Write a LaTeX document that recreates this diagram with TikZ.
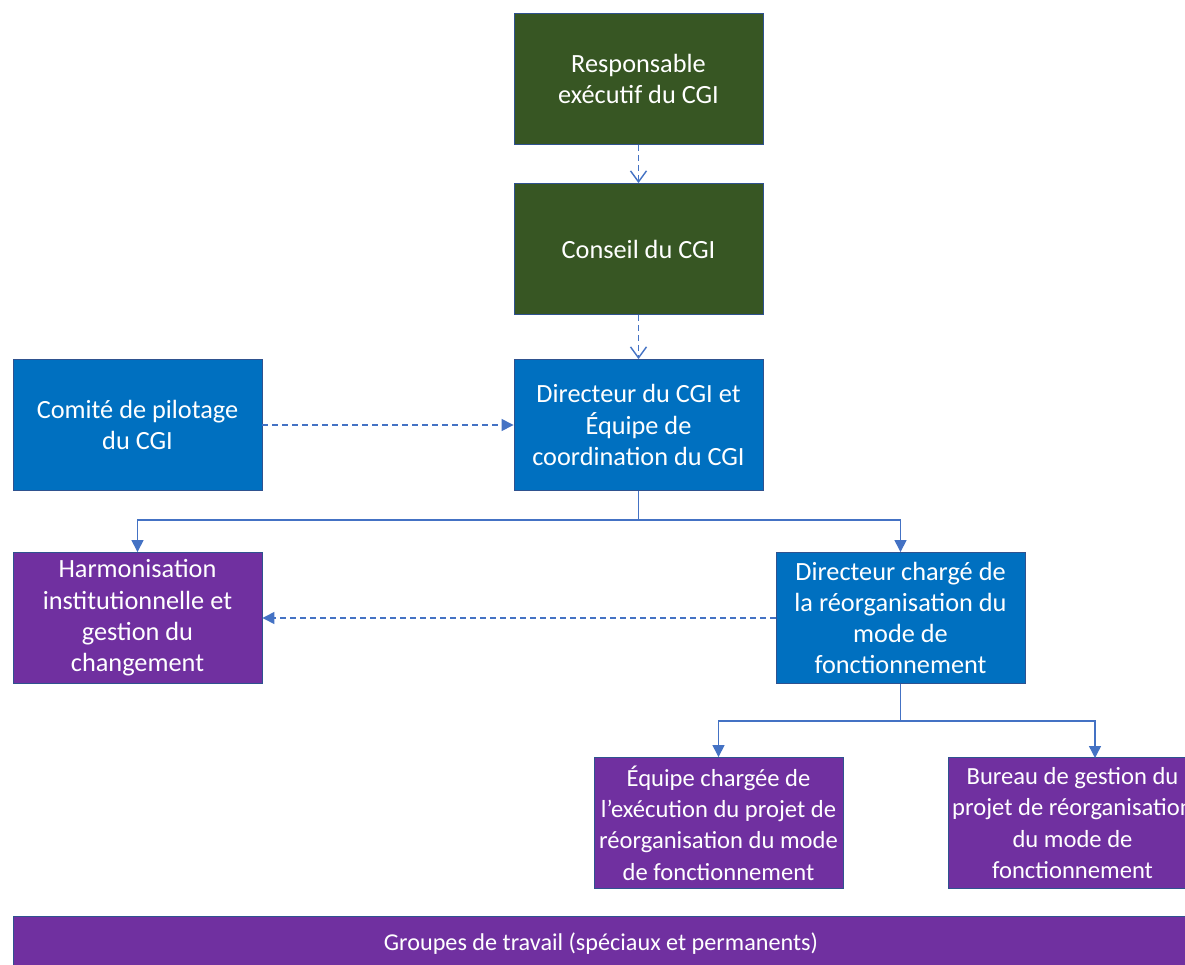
\documentclass[tikz,border=0pt]{standalone}
\usepackage{fontspec}
\setmainfont{Carlito}
\usepackage{xcolor}
\usetikzlibrary{arrows.meta, positioning}
\definecolor{boardgreen}{HTML}{375623}
\definecolor{unitblue}{HTML}{0070C0}
\definecolor{teampurple}{HTML}{7030A0}
\definecolor{edgeblue}{HTML}{2F528F}
\definecolor{linkblue}{HTML}{4472C4}

\begin{document}
\begin{tikzpicture}[
    x=1pt, y=-1pt,
    every node/.style={font=\fontsize{26.3}{31.3}\selectfont, text=white, align=center},
    tighttext/.style={font=\fontsize{24.6}{31.3}\selectfont},
    boxbase/.style={rectangle, draw=edgeblue, line width=0.9pt, minimum width=249pt, minimum height=131pt, inner sep=0pt},
    greenbox/.style={boxbase, fill=boardgreen},
    bluebox/.style={boxbase, fill=unitblue},
    purplebox/.style={boxbase, fill=teampurple},
    dashlink/.style={draw=linkblue, line width=1.4pt, dash pattern=on 6pt off 4pt},
    openlink/.style={dashlink, -{Straight Barb[length=11pt, width=16pt, line width=1.4pt]}},
    filllink/.style={dashlink, -{Triangle[length=12pt, width=12pt]}},
    elbow/.style={draw=linkblue, line width=1.4pt, -{Triangle[length=12pt, width=12pt]}},
]
\clip (0,0) rectangle (1185,965);
\fill[white] (0,0) rectangle (1185,965);
% top of the chain
\node[greenbox] (exec) at (638.5,79) {Responsable\\exécutif du CGI};
\node[greenbox] (board) at (638.5,249) {Conseil du CGI};
\node[bluebox] (director) at (638.5,425) {Directeur du CGI et\\Équipe de\\coordination du CGI};
\node[bluebox] (steering) at (137.5,425) {Comité de pilotage\\du CGI};
% second level
\node[purplebox] (harmon) at (137.5,618) {Harmonisation\\institutionnelle et\\gestion du\\changement};
\node[bluebox] (reorg) at (900.5,618) {Directeur chargé de\\la réorganisation du\\mode de\\fonctionnement};
\node[purplebox, tighttext] (execteam) at (718.5,823) {Équipe chargée de\\l’exécution du projet de\\réorganisation du mode\\de fonctionnement};
\node[purplebox, tighttext] (pmo) at (1072.5,823) {Bureau de gestion du\\projet de réorganisation\\du mode de\\fonctionnement};
\node[purplebox, minimum width=1176pt, minimum height=56pt, font=\fontsize{24.2}{30}\selectfont] (groups) at (601,944) {Groupes de travail (spéciaux et permanents)};
% connectors
\draw[openlink] (exec) -- (board);
\draw[openlink] (board) -- (director);
\draw[filllink] (steering) -- (director);
\draw[filllink] (reorg) -- (harmon);
\coordinate (split1) at (638.5,520);
\coordinate (split2) at (900.5,721);
\coordinate (pmoin) at (1095,758);
\draw[elbow] (director.south) -- (split1) -| (harmon.north);
\draw[elbow] (split1) -| (reorg.north);
\draw[elbow] (reorg.south) -- (split2) -| (execteam.north);
\draw[elbow] (split2) -| (pmoin);
\end{tikzpicture}
\end{document}
